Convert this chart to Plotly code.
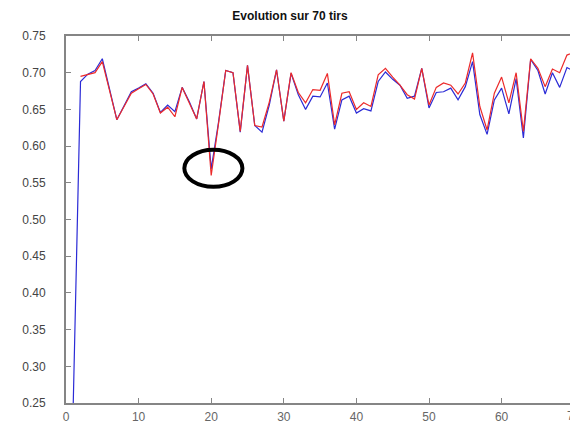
import plotly.graph_objects as go

# Shot index (1..70)
shots_blue = list(range(1, 71))
shots_red = list(range(2, 71))

# Series values
blue_values = [
    0.250, 0.688, 0.698, 0.703, 0.719, 0.678, 0.636, 0.655, 0.674, 0.679,
    0.685, 0.672, 0.646, 0.656, 0.647, 0.680, 0.660, 0.637, 0.688, 0.569,
    0.632, 0.703, 0.700, 0.619, 0.710, 0.628, 0.619, 0.656, 0.704, 0.634,
    0.699, 0.670, 0.650, 0.668, 0.667, 0.686, 0.623, 0.663, 0.668, 0.645,
    0.651, 0.648, 0.688, 0.701, 0.691, 0.683, 0.665, 0.668, 0.706, 0.652,
    0.673, 0.674, 0.679, 0.663, 0.681, 0.715, 0.643, 0.616, 0.663, 0.679,
    0.644, 0.692, 0.611, 0.718, 0.703, 0.671, 0.700, 0.680, 0.707, 0.702,
]
red_values = [
    0.695, 0.697, 0.700, 0.715, 0.676, 0.636, 0.654, 0.672, 0.678,
    0.684, 0.671, 0.645, 0.653, 0.640, 0.680, 0.658, 0.637, 0.688, 0.560,
    0.630, 0.703, 0.700, 0.620, 0.710, 0.628, 0.626, 0.660, 0.704, 0.634,
    0.700, 0.673, 0.659, 0.677, 0.676, 0.699, 0.629, 0.672, 0.674, 0.650,
    0.659, 0.654, 0.697, 0.706, 0.694, 0.683, 0.670, 0.664, 0.706, 0.656,
    0.680, 0.686, 0.683, 0.671, 0.686, 0.727, 0.654, 0.622, 0.672, 0.694,
    0.659, 0.700, 0.620, 0.719, 0.706, 0.681, 0.705, 0.700, 0.724, 0.728,
]

# Axis ticks
x_ticks = [0, 10, 20, 30, 40, 50, 60]
y_ticks = [0.25, 0.30, 0.35, 0.40, 0.45, 0.50, 0.55, 0.60, 0.65, 0.70, 0.75]

# Highlighted outlier (shot 20)
circle_x = (16.3, 24.3)
circle_y = (0.5445, 0.5950)

X_MAX = 69.42
FONT = "Liberation Sans, Arial, sans-serif"

fig = go.Figure()
fig.add_trace(go.Scatter(
    x=shots_blue, y=blue_values, mode="lines",
    line=dict(color="#2b2bd6", width=1.2), showlegend=False,
))
fig.add_trace(go.Scatter(
    x=shots_red, y=red_values, mode="lines",
    line=dict(color="#ec2a2a", width=1.2), showlegend=False,
))

fig.add_shape(
    type="circle", xref="x", yref="y",
    x0=circle_x[0], x1=circle_x[1], y0=circle_y[0], y1=circle_y[1],
    line=dict(color="black", width=4),
)

# Last x tick label, partly past the right edge
fig.add_annotation(
    x=70 / X_MAX, xref="paper", y=0, yref="paper",
    text="70", showarrow=False, xanchor="center", yanchor="top",
    yshift=-4, font=dict(family=FONT, size=12, color="#666666"),
)

fig.update_layout(
    width=570, height=424,
    margin=dict(l=66, r=0, t=36, b=18),
    paper_bgcolor="white", plot_bgcolor="white",
    font=dict(family=FONT, size=12, color="#444444"),
    title=dict(
        text="<b>Evolution sur 70 tirs</b>",
        x=290 / 570, xref="container", xanchor="center",
        y=1 - 16 / 424, yref="container", yanchor="middle",
        font=dict(family=FONT, size=12, color="#111111"),
    ),
    xaxis=dict(
        range=[0, X_MAX], tickvals=x_ticks, ticktext=[str(v) for v in x_ticks],
        showgrid=False, zeroline=False,
        showline=True, linecolor="#858585", linewidth=2, mirror="ticks",
        ticks="inside", ticklen=5, tickcolor="#858585", tickwidth=1,
        tickfont=dict(family=FONT, size=12, color="#666666"),
        ticklabelstandoff=2,
    ),
    yaxis=dict(
        range=[0.25, 0.75], tickvals=y_ticks, ticktext=[f"{v:.2f}" for v in y_ticks],
        showgrid=False, zeroline=False,
        showline=True, linecolor="#858585", linewidth=2,
        ticks="inside", ticklen=5, tickcolor="#858585", tickwidth=1,
        tickfont=dict(family=FONT, size=12, color="#444444"),
        ticklabelstandoff=16,
    ),
)

fig.write_html("out.html")
